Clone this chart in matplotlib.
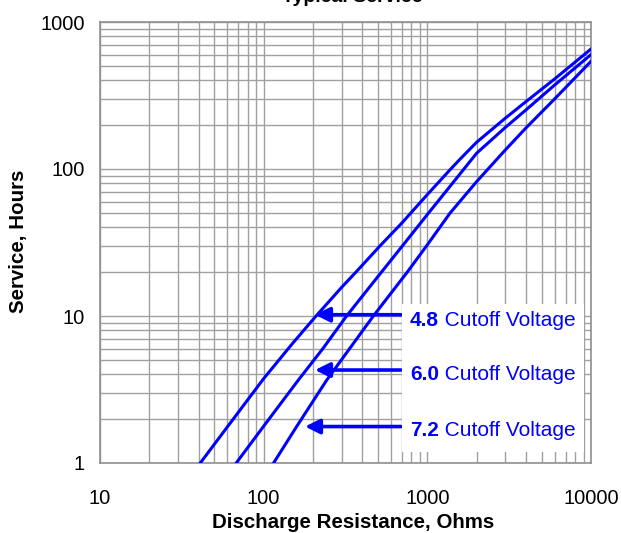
import matplotlib
matplotlib.use("Agg")
import matplotlib.pyplot as plt
from matplotlib.patches import Rectangle

plt.rcParams['font.family'] = ['Liberation Sans', 'DejaVu Sans']

# Data (Discharge resistance in ohms, service in hours)
r_48 = [41, 60, 100, 150, 209, 300, 368, 514, 700, 1000, 1390, 1600, 2000, 3000, 4000, 6000, 10000]
h_48 = [1, 1.76, 3.75, 6.5, 10, 15.7, 20, 30, 43, 67, 100, 118, 152, 222, 287, 410, 655]

r_60 = [68, 100, 163, 230, 321, 500, 741, 1000, 1476, 2000, 3000, 4000, 6000, 10000]
h_60 = [1, 1.78, 3.67, 6.0, 10, 18.6, 32.2, 49, 84, 128, 192, 252, 373, 600]

r_72 = [115, 159, 243, 468, 757, 1000, 1374, 2000, 3000, 4000, 6000, 10000]
h_72 = [1, 1.77, 3.67, 10, 20, 30.5, 50, 82, 135, 190, 300, 540]

labels_bold = ["4.8", "6.0", "7.2"]
label_rest = " Cutoff Voltage"
arrow_tips_r = [206, 206, 179]
arrow_tips_h = [10.2, 4.29, 1.77]
arrow_tail_r = 690

xticks = [10, 100, 1000, 10000]
yticks = [1, 10, 100, 1000]

BLUE = "#0000FF"
GRID = "#a0a0a0"

fig = plt.figure(figsize=(6.21, 5.33), dpi=100)
ax = fig.add_axes([100/621, 1-463/533, 491/621, 441/533])
ax.set_xscale("log")
ax.set_yscale("log")
ax.set_xlim(10, 10000)
ax.set_ylim(1, 1000)

ax.grid(True, which="both", color=GRID, linewidth=1.0)
ax.set_axisbelow(True)
for s in ax.spines.values():
    s.set_color("#909090")
    s.set_linewidth(1.2)

ax.set_xticks(xticks)
ax.set_xticklabels([str(v) for v in xticks])
ax.set_yticks(yticks)
ax.set_yticklabels([str(v) for v in yticks])
ax.tick_params(which="both", length=0)
ax.tick_params(axis="x", labelsize=14.5, pad=19)
ax.tick_params(axis="y", labelsize=14.5, pad=11)

for r, h in [(r_48, h_48), (r_60, h_60), (r_72, h_72)]:
    ax.plot(r, h, color=BLUE, linewidth=2.2, zorder=3, clip_on=True,
            solid_joinstyle="round")

for tr, th in zip(arrow_tips_r, arrow_tips_h):
    ax.annotate("", xy=(tr, th), xytext=(arrow_tail_r, th),
                arrowprops=dict(arrowstyle="-|>", color=BLUE, lw=2.6,
                                mutation_scale=22, shrinkA=0, shrinkB=0),
                zorder=4)

# white label box
box = Rectangle(((402-100)/491, (463-452)/441), (584-402)/491, (452-304)/441,
                transform=ax.transAxes, facecolor="white", edgecolor="none",
                zorder=5)
ax.add_patch(box)

ys = [(463-320)/441, (463-375)/441, (463-430)/441]
for lb, yy in zip(labels_bold, ys):
    t1 = ax.text((410-100)/491, yy, lb, transform=ax.transAxes, fontsize=15,
                 fontweight="bold", color=BLUE, ha="left", va="center", zorder=6)
    ax.annotate(label_rest, xy=(1, 0), xycoords=t1, fontsize=15, color=BLUE,
                ha="left", va="bottom", zorder=6)

ax.set_xlabel("Discharge Resistance, Ohms", fontsize=14.8, fontweight="bold")
ax.xaxis.label.set_va("baseline")
ax.xaxis.set_label_coords((353-100)/491, (463-528)/441)

ax.set_ylabel("Service, Hours", fontsize=14.8, fontweight="bold")
ax.yaxis.label.set_va("center")
ax.yaxis.set_label_coords((19-100)/491, (463-241)/441)

fig.text(352/621, 1-1.8/533, "Typical Service", fontsize=14, fontweight="bold",
         ha="center", va="baseline")

fig.savefig("out.png", dpi=100)
